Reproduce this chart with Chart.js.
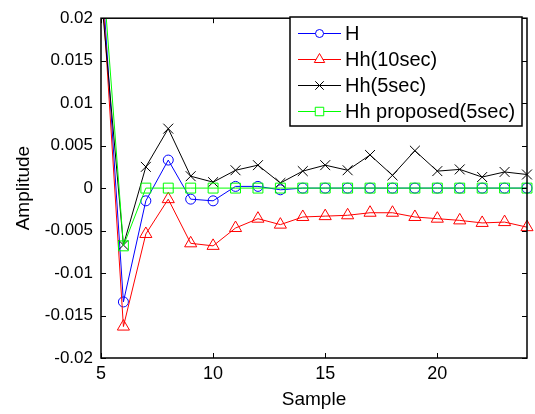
<!DOCTYPE html>
<html>
<head>
<meta charset="utf-8">
<script src="https://cdn.jsdelivr.net/npm/chart.js@4.4.1/dist/chart.umd.min.js"></script>
<style>
  html, body { margin: 0; padding: 0; background: #fff; }
  canvas { display: block; }
</style>
</head>
<body>
<canvas id="ampChart" width="535" height="414"></canvas>
<script>
// values
const samples = [5, 6, 7, 8, 9, 10, 11, 12, 13, 14, 15, 16, 17, 18, 19, 20, 21, 22, 23, 24];
const hValues = [0.0269, -0.0134, -0.0015, 0.0033, -0.0013, -0.0015, 0.0002, 0.0002, -0.0002, 0, 0, 0, 0, 0, 0, 0, 0, 0, 0, 0];
const hh10Values = [0.0257, -0.0163, -0.0054, -0.0013, -0.0065, -0.0068, -0.0047, -0.0036, -0.0043, -0.0034, -0.0033, -0.0032, -0.0029, -0.0029, -0.0034, -0.0036, -0.0038, -0.0041, -0.0040, -0.0046];
const hh5Values = [0.0231, -0.0067, 0.0025, 0.0070, 0.0014, 0.0007, 0.0021, 0.0027, 0.0006, 0.0020, 0.0027, 0.0021, 0.0039, 0.0015, 0.0044, 0.0020, 0.0022, 0.0013, 0.0019, 0.0016];
const proposedValues = [0.0283, -0.0068, 0, 0, 0, 0, 0, 0, 0, 0, 0, 0, 0, 0, 0, 0, 0, 0, 0, 0];
const xTicks = [5, 10, 15, 20];
const yTicks = [-0.02, -0.015, -0.01, -0.005, 0, 0.005, 0.01, 0.015, 0.02];

const FONT = "'Liberation Sans', Arial, Helvetica, sans-serif";

function toPoints(vals) {
    return vals.map((v, i) => ({ x: samples[i], y: v }));
}

function series(label, vals, color, style, radius, order) {
    return {
        label: label,
        data: toPoints(vals),
        borderColor: color,
        borderWidth: 1,
        pointStyle: style,
        pointRadius: radius,
        pointHoverRadius: radius,
        pointBorderColor: color,
        pointBorderWidth: 1,
        pointBackgroundColor: 'rgba(0,0,0,0)',
        tension: 0,
        order: order,
        clip: { left: 0, top: 0, right: 8, bottom: 0 }
    };
}

// box, inward ticks and legend in the MATLAB look
const matlabFrame = {
    id: 'matlabFrame',
    afterDatasetsDraw(chart) {
        const ctx = chart.ctx;
        const a = chart.chartArea;
        const xs = chart.scales.x, ys = chart.scales.y;
        ctx.save();
        ctx.strokeStyle = '#000';
        ctx.lineWidth = 1.5;
        ctx.strokeRect(a.left, a.top, a.right - a.left, a.bottom - a.top);
        ctx.lineWidth = 1;
        ctx.beginPath();
        xTicks.forEach(t => {
            const px = Math.round(xs.getPixelForValue(t)) + 0.5;
            ctx.moveTo(px, a.bottom); ctx.lineTo(px, a.bottom - 5);
            ctx.moveTo(px, a.top); ctx.lineTo(px, a.top + 5);
        });
        yTicks.forEach(t => {
            const py = Math.round(ys.getPixelForValue(t)) + 0.5;
            ctx.moveTo(a.left, py); ctx.lineTo(a.left + 5, py);
            ctx.moveTo(a.right, py); ctx.lineTo(a.right - 5, py);
        });
        ctx.stroke();

        // legend
        const lx = 290, ly = 17, lw = 232, lh = 109;
        ctx.fillStyle = '#fff';
        ctx.fillRect(lx, ly, lw, lh);
        ctx.lineWidth = 1.5;
        ctx.strokeStyle = '#000';
        ctx.strokeRect(lx, ly, lw, lh);
        ctx.font = '20px ' + FONT;
        ctx.textBaseline = 'middle';
        ctx.textAlign = 'left';
        chart.data.datasets.forEach((ds, i) => {
            const y = ly + 16 + i * 26;
            ctx.strokeStyle = ds.borderColor;
            ctx.lineWidth = 1;
            ctx.beginPath();
            ctx.moveTo(lx + 8, y + 0.5);
            ctx.lineTo(lx + 51, y + 0.5);
            ctx.stroke();
            ctx.fillStyle = '#fff';
            Chart.helpers.drawPoint(ctx, {
                pointStyle: ds.pointStyle,
                radius: ds.pointRadius - 1,
                rotation: 0,
                borderWidth: 1
            }, lx + 29.5, y + 0.5);
            ctx.fillStyle = '#000';
            ctx.fillText(ds.label, lx + 55, y + 1);
        });
        ctx.restore();
    }
};

const ctx = document.getElementById('ampChart').getContext('2d');
const ampChart = new Chart(ctx, {
    type: 'line',
    data: {
        datasets: [
            series('H', hValues, '#0000ff', 'circle', 5, 4),
            series('Hh(10sec)', hh10Values, '#ff0000', 'triangle', 7, 3),
            series('Hh(5sec)', hh5Values, '#000000', 'crossRot', 7, 2),
            series('Hh proposed(5sec)', proposedValues, '#00ff00', 'rect', 7, 1)
        ]
    },
    options: {
        responsive: false,
        animation: false,
        events: [],
        layout: { padding: { left: 0, right: 5, top: 10, bottom: 0 } },
        plugins: {
            legend: { display: false },
            tooltip: { enabled: false }
        },
        scales: {
            x: {
                type: 'linear',
                min: 5,
                max: 24,
                afterBuildTicks: (scale) => { scale.ticks = xTicks.map(v => ({ value: v })); },
                afterFit: (scale) => { scale.height = 56; },
                grid: { display: false, drawTicks: false },
                border: { display: false },
                ticks: {
                    color: '#000',
                    font: { family: FONT, size: 18 },
                    padding: 5,
                    maxRotation: 0,
                    autoSkip: false
                },
                title: {
                    display: true,
                    text: 'Sample',
                    color: '#000',
                    font: { family: FONT, size: 19 },
                    padding: { top: 0, bottom: 3 }
                }
            },
            y: {
                min: -0.02,
                max: 0.02,
                afterBuildTicks: (scale) => { scale.ticks = yTicks.map(v => ({ value: v })); },
                afterFit: (scale) => { scale.width = 101; },
                grid: { display: false, drawTicks: false },
                border: { display: false },
                ticks: {
                    color: '#000',
                    font: { family: FONT, size: 17 },
                    padding: 8,
                    autoSkip: false,
                    callback: (v) => String(Math.round(v * 1000) / 1000)
                },
                title: {
                    display: true,
                    text: 'Amplitude',
                    color: '#000',
                    font: { family: FONT, size: 19 },
                    padding: { top: 12, bottom: 0 }
                }
            }
        }
    },
    plugins: [matlabFrame]
});
</script>
</body>
</html>
